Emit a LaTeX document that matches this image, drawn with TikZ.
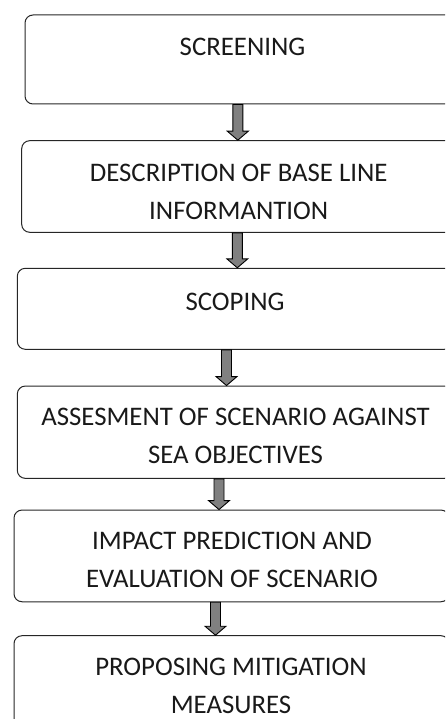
\documentclass[tikz,border=0pt]{standalone}
\usepackage{fontspec}
\setmainfont{Carlito}
\usetikzlibrary{calc}
\tikzset{
  stage/.style={draw=black!85,line width=1pt,rounded corners=8pt,minimum width=435pt,inner sep=0pt},
  stagetext/.style={align=center,font=\fontsize{26.8}{37.5}\selectfont,text=black!90,inner sep=0pt},
  flow/.style={draw=black,line width=0.9pt,fill=black!50,line join=miter}
}
% block arrow: shaft x, upper box, lower box
\newcommand{\flowarrow}[3]{%
  \draw[flow] let \p1=(#2.south), \p2=(#3.north) in
    (#1-5,\y1)--(#1-5,\y2+9)--(#1-10.5,\y2+9)--(#1,\y2)--(#1+10.5,\y2+9)--(#1+5,\y2+9)--(#1+5,\y1)--cycle;}
\begin{document}
\begin{tikzpicture}[x=1pt,y=1pt]
\useasboundingbox (0,0) rectangle (445,-719);
\clip (0,0) rectangle (445,-719);
%boxes
\node[stage,minimum height=89pt] (screen) at (242.5,-59.5) {};
\node[stage,minimum height=91.6pt] (base) at (239.2,-186.5) {};
\node[stage,minimum height=81pt] (scope) at (234.8,-308.8) {};
\node[stage,minimum height=92.3pt] (assess) at (234.8,-432.2) {};
\node[stage,minimum height=91.7pt] (impact) at (231.5,-555.9) {};
\node[stage,minimum height=100pt] (mitig) at (231.5,-685.7) {};
%texts
\node[stagetext] (screenT) at (242.5,-46.9) {SCREENING};
\node[stagetext] (baseT) at (238.7,-192) {DESCRIPTION OF BASE LINE\\INFORMANTION};
\node[stagetext] (scopeT) at (235,-301.7) {SCOPING};
\node[stagetext] (assessT) at (235.5,-436) {ASSESMENT OF SCENARIO AGAINST\\SEA OBJECTIVES};
\node[stagetext] (impactT) at (232,-560) {IMPACT PREDICTION AND\\EVALUATION OF SCENARIO};
\node[stagetext] (mitigT) at (231,-686) {PROPOSING MITIGATION\\MEASURES};
%arrows
\flowarrow{237.8}{screen}{base}
\flowarrow{237.3}{base}{scope}
\flowarrow{226.5}{scope}{assess}
\flowarrow{219}{assess}{impact}
\flowarrow{215.5}{impact}{mitig}
\end{tikzpicture}
\end{document}
